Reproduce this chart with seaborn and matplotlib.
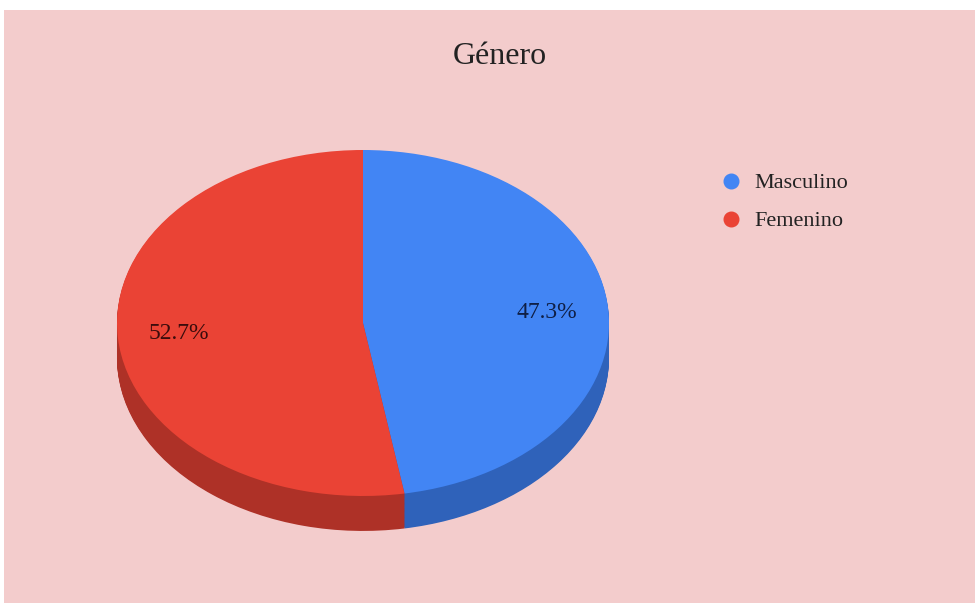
import numpy as np
import seaborn as sns
from matplotlib import pyplot as plt
from matplotlib.lines import Line2D

title = 'Género'
labels = ['Masculino', 'Femenino']
values = [47.3, 52.7]
top_colors = ['#4285F4', '#EA4335']
side_colors = ['#2F62BA', '#AE3127']
text_colors = ['#0F1F45', '#3A0C0C']
bg = '#F3CCCC'

sns.set_theme(style='white')
plt.rcParams['font.family'] = ['Liberation Serif', 'DejaVu Serif']

fig = plt.figure(figsize=(9.75, 6.04), dpi=100)
fig.patch.set_facecolor('white')
ax = fig.add_axes([4 / 975, 1 / 604, 971 / 975, 593 / 604])
ax.set_facecolor(bg)

# fake 3d: stack darker pies under the top face
depth = 0.202
n_layers = 40
for k in range(n_layers):
    off = depth * (1 - k / n_layers)
    ax.pie(values, colors=side_colors, startangle=90, counterclock=False,
           center=(0, -off), radius=1, frame=True,
           wedgeprops={'linewidth': 0})

wedges, texts, autotexts = ax.pie(values, colors=top_colors, startangle=90, counterclock=False,
                                  center=(0, 0), radius=1, frame=True,
                                  autopct='%.1f%%', pctdistance=0.75,
                                  wedgeprops={'linewidth': 0},
                                  textprops={'fontsize': 17})
for t, c in zip(autotexts, text_colors):
    t.set_color(c)

ax.set_aspect('auto')
ax.set_xlim(-359 / 246, 612 / 246)
ax.set_ylim(-280 / 173, 313 / 173)
ax.set_xticks([])
ax.set_yticks([])
for s in ax.spines.values():
    s.set_visible(False)

fig.text(500 / 975, 1 - 57 / 604, title, ha='center', va='center', fontsize=23, color='#222222')

handles = [Line2D([], [], marker='o', linestyle='', markersize=10.5,
                  markerfacecolor=c, markeredgecolor=c) for c in top_colors]
leg = fig.legend(handles, labels, loc='upper left', bbox_to_anchor=(711 / 975, 1 - 164 / 604),
                 frameon=False, fontsize=16, handletextpad=0.53, labelspacing=0.78,
                 borderaxespad=0, handlelength=1.0)
for t in leg.get_texts():
    t.set_color('#222222')

fig.savefig('out.png', dpi=100, facecolor=fig.get_facecolor())
